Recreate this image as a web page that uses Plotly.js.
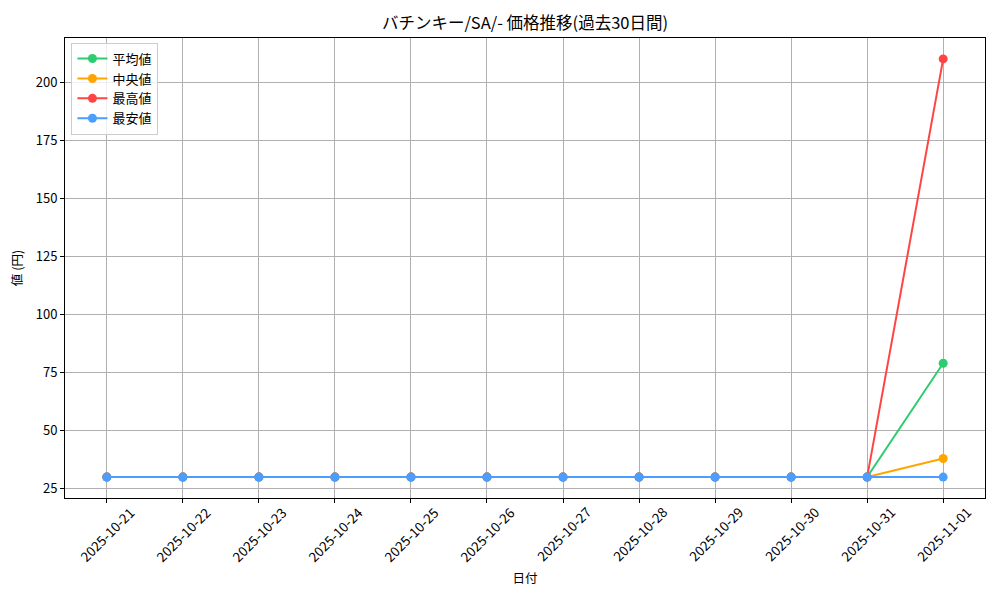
<!DOCTYPE html>
<html>
<head>
<meta charset="utf-8">
<script src="https://cdn.plot.ly/plotly-3.0.1.min.js"></script>
<style>
  body { margin: 0; background: #fff; }
  #chart { width: 1000px; height: 600px; }
</style>
</head>
<body>
<div id="chart"></div>
<script>
// dates and the four price series (yen)
const dates = ['2025-10-21', '2025-10-22', '2025-10-23', '2025-10-24', '2025-10-25', '2025-10-26',
               '2025-10-27', '2025-10-28', '2025-10-29', '2025-10-30', '2025-10-31', '2025-11-01'];
const avgPrice = [30, 30, 30, 30, 30, 30, 30, 30, 30, 30, 30, 79];
const medPrice = [30, 30, 30, 30, 30, 30, 30, 30, 30, 30, 30, 38];
const maxPrice = [30, 30, 30, 30, 30, 30, 30, 30, 30, 30, 30, 210];
const minPrice = [30, 30, 30, 30, 30, 30, 30, 30, 30, 30, 30, 30];
const yTicks = [25, 50, 75, 100, 125, 150, 175, 200];

const FONT = '"Noto Sans CJK JP", "DejaVu Sans", sans-serif';

function serie(y, name, color) {
    return {
        x: dates,
        y: y,
        name: name,
        type: 'scatter',
        mode: 'lines+markers',
        line: {color: color, width: 2},
        marker: {color: color, size: 9}
    };
}

var veri = [
    serie(avgPrice, '平均値', '#2ecc71'),
    serie(medPrice, '中央値', '#ffa500'),
    serie(maxPrice, '最高値', '#ff4444'),
    serie(minPrice, '最安値', '#4a9eff')
];

// date labels centred under each tick, rotated like the original
let dateLabels = []
dates.forEach((d) => {
    dateLabels.push({
        x: d, xref: 'x',
        y: 0, yref: 'paper',
        yshift: -36,
        text: d,
        textangle: -45,
        xanchor: 'center', yanchor: 'middle',
        showarrow: false,
        font: {family: FONT, size: 13.5, color: '#000'}
    })
})

var layout = {
    width: 1000,
    height: 600,
    paper_bgcolor: '#fff',
    plot_bgcolor: '#fff',
    font: {family: FONT, size: 12, color: '#000'},
    margin: {l: 65, r: 15, t: 38, b: 102},
    title: {
        text: 'バチンキー/SA/- 価格推移(過去30日間)',
        font: {family: FONT, size: 16.5, color: '#000'},
        x: 0.525, xanchor: 'center',
        y: 0.962, yanchor: 'middle'
    },
    xaxis: {
        type: 'category',
        range: [-0.55, 11.55],
        showticklabels: false,
        automargin: false,
        ticks: 'outside', ticklen: 4, tickcolor: '#000',
        showgrid: true, gridcolor: '#b0b0b0', gridwidth: 1,
        showline: true, linecolor: '#000', linewidth: 1, mirror: true,
        zeroline: false,
        title: {text: '日付', font: {family: FONT, size: 12.5}, standoff: 72}
    },
    yaxis: {
        range: [21, 219],
        tickvals: yTicks,
        automargin: false,
        ticks: 'outside', ticklen: 4, tickcolor: '#000',
        tickfont: {family: FONT, size: 13},
        showgrid: true, gridcolor: '#b0b0b0', gridwidth: 1,
        showline: true, linecolor: '#000', linewidth: 1, mirror: true,
        zeroline: false,
        title: {text: '値 (円)', font: {family: FONT, size: 12.5}, standoff: 10}
    },
    annotations: dateLabels,
    showlegend: true,
    legend: {
        x: 0.007, y: 0.99, xanchor: 'left', yanchor: 'top',
        bgcolor: 'rgba(255,255,255,0.8)',
        bordercolor: '#cccccc', borderwidth: 1,
        font: {family: FONT, size: 13},
        tracegroupgap: 0
    }
};

Plotly.newPlot('chart', veri, layout, {displayModeBar: false, staticPlot: true});
</script>
</body>
</html>
